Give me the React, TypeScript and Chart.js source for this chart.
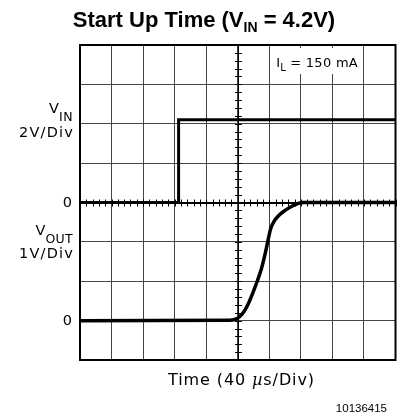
import React, { useEffect, useRef } from "react";
import { Chart, registerables } from "chart.js";

Chart.register(...registerables);

// VIN trace (time in µs, volts at 2 V/div)
const vinTime = [0, 125, 125, 400];
const vinVolts = [0, 0, 4.2, 4.2];

// VOUT trace (time in µs, volts at 1 V/div)
const voutTime = [0, 190, 199, 205, 210, 215, 220, 225, 230, 235, 239, 242, 246, 252, 260, 268, 276, 282, 400];
const voutVolts = [0, 0.01, 0.05, 0.15, 0.3, 0.5, 0.75, 1.02, 1.32, 1.72, 2.1, 2.35, 2.52, 2.67, 2.8, 2.9, 2.97, 3.0, 3.0];

// axes (divisions)
const timeMin = 0;
const timeMax = 400;
const timeStep = 40;
const vinMin = -8;
const vinMax = 8;
const vinStep = 2;
const voutMin = -1;
const voutMax = 7;

type Run = { text: string; font: string; dy?: number; ls?: string };

function drawRuns(ctx: CanvasRenderingContext2D, runs: Run[], x: number, y: number, align: "left" | "right" | "center") {
  let total = 0;
  const widths: number[] = [];
  for (const r of runs) {
    ctx.font = r.font;
    (ctx as any).letterSpacing = r.ls || "0px";
    const w = ctx.measureText(r.text).width;
    widths.push(w);
    total += w;
  }
  let cx = align === "left" ? x : align === "right" ? x - total : x - total / 2;
  ctx.textAlign = "left";
  ctx.textBaseline = "alphabetic";
  runs.forEach((r, i) => {
    ctx.font = r.font;
    (ctx as any).letterSpacing = r.ls || "0px";
    ctx.fillText(r.text, cx, y + (r.dy || 0));
    cx += widths[i];
  });
  (ctx as any).letterSpacing = "0px";
}

const LBL = "14.5px 'DejaVu Sans'";
const SUB = "12.5px 'DejaVu Sans'";

const scopePlugin = {
  id: "scope",
  beforeDatasetsDraw(chart: any) {
    const ctx: CanvasRenderingContext2D = chart.ctx;
    const xs = chart.scales.x;
    const ys = chart.scales.y;
    const area = chart.chartArea;
    ctx.save();
    // white box behind the load label
    const bx0 = xs.getPixelForValue(timeMin + 6 * timeStep) + 2;
    const bx1 = xs.getPixelForValue(timeMin + 9 * timeStep) - 2;
    ctx.fillStyle = "#ffffff";
    ctx.fillRect(bx0, area.top + 3, bx1 - bx0, 26);

    // center axes with minor ticks
    const cx = Math.round(xs.getPixelForValue((timeMin + timeMax) / 2)) + 0.5;
    const cy = Math.round(ys.getPixelForValue(0));
    ctx.strokeStyle = "#000";
    ctx.lineWidth = 1;
    ctx.beginPath();
    ctx.moveTo(cx, area.top);
    ctx.lineTo(cx, area.bottom);
    ctx.stroke();
    ctx.lineWidth = 2;
    ctx.beginPath();
    ctx.moveTo(area.left, cy);
    ctx.lineTo(area.right, cy);
    ctx.stroke();
    ctx.lineWidth = 1;
    ctx.beginPath();
    for (let v = vinMin; v <= vinMax + 1e-6; v += vinStep / 5) {
      const py = Math.round(ys.getPixelForValue(v)) + 0.5;
      ctx.moveTo(cx - 3.5, py);
      ctx.lineTo(cx + 3.5, py);
    }
    for (let t = timeMin; t <= timeMax + 1e-6; t += timeStep / 5) {
      const px = Math.round(xs.getPixelForValue(t)) + 0.5;
      ctx.moveTo(px, cy - 3.5);
      ctx.lineTo(px, cy + 3.5);
    }
    ctx.stroke();
    ctx.restore();
  },
  afterDraw(chart: any) {
    const ctx: CanvasRenderingContext2D = chart.ctx;
    const a = chart.chartArea;
    const xs = chart.scales.x;
    ctx.save();
    // frame
    ctx.strokeStyle = "#000";
    ctx.lineWidth = 2;
    ctx.strokeRect(a.left, a.top, a.right - a.left, a.bottom - a.top);

    ctx.fillStyle = "#000";
    // title
    drawRuns(
      ctx,
      [
        { text: "Start Up Time (V", font: "bold 22px 'Liberation Sans', Arial, sans-serif" },
        { text: "IN", font: "bold 14px 'Liberation Sans', Arial, sans-serif", dy: 5 },
        { text: " = 4.2V)", font: "bold 22px 'Liberation Sans', Arial, sans-serif" },
      ],
      204,
      27,
      "center"
    );

    // left labels
    drawRuns(ctx, [{ text: "V", font: LBL }, { text: "IN", font: SUB, dy: 8, ls: "0.5px" }], 73, 113, "right");
    drawRuns(ctx, [{ text: "2V/Div", font: LBL, ls: "1.2px" }], 74, 137, "right");
    drawRuns(ctx, [{ text: "0", font: LBL }], 72, 207, "right");
    drawRuns(ctx, [{ text: "V", font: LBL }, { text: "OUT", font: SUB, dy: 8, ls: "0.3px" }], 73, 235, "right");
    drawRuns(ctx, [{ text: "1V/Div", font: LBL, ls: "1.2px" }], 74, 258, "right");
    drawRuns(ctx, [{ text: "0", font: LBL }], 72, 325, "right");

    // load label
    const lx = xs.getPixelForValue(timeMin + 6 * timeStep) + 7;
    drawRuns(
      ctx,
      [
        { text: "I", font: "13px 'DejaVu Sans'" },
        { text: "L", font: "10px 'DejaVu Sans'", dy: 4 },
        { text: " = 150 mA", font: "13px 'DejaVu Sans'", ls: "0.3px" },
      ],
      lx,
      67,
      "left"
    );

    // x label
    drawRuns(
      ctx,
      [
        { text: "Time (40 ", font: "16px 'DejaVu Sans'", ls: "0.9px" },
        { text: "µ", font: "italic 16px 'DejaVu Serif'", ls: "0.9px" },
        { text: "s/Div)", font: "16px 'DejaVu Sans'", ls: "0.9px" },
      ],
      241.5,
      385,
      "center"
    );

    // figure id
    drawRuns(ctx, [{ text: "10136415", font: "11.5px 'Liberation Sans', Arial, sans-serif" }], 387, 412, "right");
    ctx.restore();
  },
};

export default function App() {
  const ref = useRef<HTMLCanvasElement | null>(null);
  useEffect(() => {
    if (!ref.current) return;
    const vinData = vinTime.map((t, i) => ({ x: t, y: vinVolts[i] }));
    const voutData = voutTime.map((t, i) => ({ x: t, y: voutVolts[i] }));
    const chart = new Chart(ref.current, {
      type: "line",
      data: {
        datasets: [
          {
            label: "VIN",
            data: vinData,
            yAxisID: "y",
            borderColor: "#000",
            borderWidth: 3,
            pointRadius: 0,
            tension: 0,
            borderJoinStyle: "miter",
            fill: false,
          },
          {
            label: "VOUT",
            data: voutData,
            yAxisID: "y2",
            borderColor: "#000",
            borderWidth: 3.5,
            pointRadius: 0,
            cubicInterpolationMode: "monotone",
            fill: false,
          },
        ],
      },
      options: {
        responsive: false,
        animation: false,
        devicePixelRatio: 1,
        layout: { padding: { left: 80, top: 45, right: 5.5, bottom: 58 } },
        plugins: { legend: { display: false }, tooltip: { enabled: false }, title: { display: false } },
        scales: {
          x: {
            type: "linear",
            min: timeMin,
            max: timeMax,
            ticks: { display: false, stepSize: timeStep },
            grid: { color: "#444", lineWidth: 1, drawTicks: false },
            border: { display: false },
          },
          y: {
            type: "linear",
            min: vinMin,
            max: vinMax,
            ticks: { display: false, stepSize: vinStep },
            grid: { color: "#444", lineWidth: 1, drawTicks: false },
            border: { display: false },
          },
          y2: {
            type: "linear",
            display: false,
            min: voutMin,
            max: voutMax,
          },
        },
      } as any,
      plugins: [scopePlugin],
    });
    return () => chart.destroy();
  }, []);
  return (
    <div style={{ position: "absolute", left: 0, top: 0, width: 401, height: 418, background: "#fff" }}>
      <canvas ref={ref} width={401} height={418} style={{ display: "block", width: 401, height: 418 }} />
    </div>
  );
}
